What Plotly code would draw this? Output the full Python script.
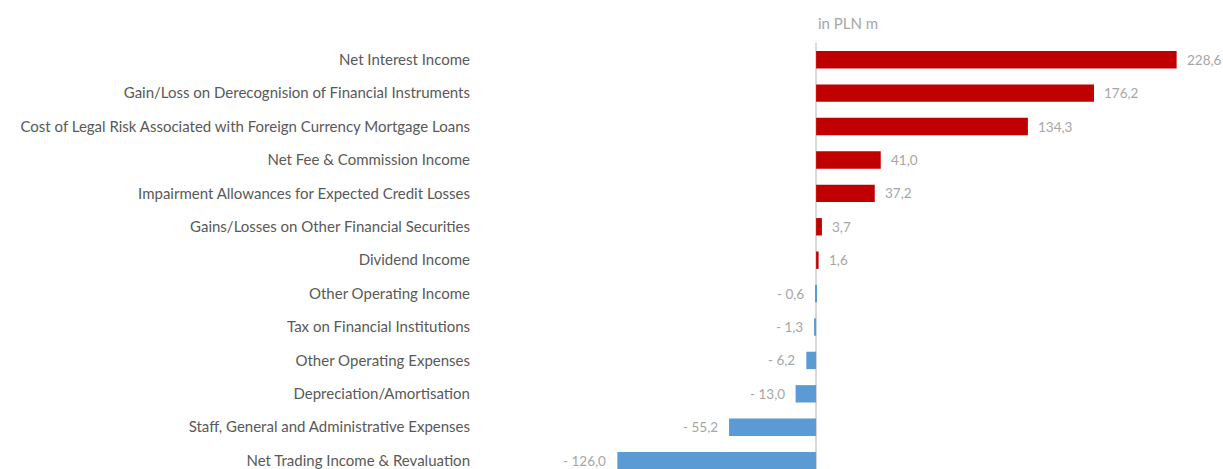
import plotly.graph_objects as go

categories = [
    "Net Interest Income",
    "Gain/Loss on Derecognision of Financial Instruments",
    "Cost of Legal Risk Associated with Foreign Currency Mortgage Loans",
    "Net Fee & Commission Income",
    "Impairment Allowances for Expected Credit Losses",
    "Gains/Losses on Other Financial Securities",
    "Dividend Income",
    "Other Operating Income",
    "Tax on Financial Institutions",
    "Other Operating Expenses",
    "Depreciation/Amortisation",
    "Staff, General and Administrative Expenses",
    "Net Trading Income & Revaluation",
]
values = [228.6, 176.2, 134.3, 41.0, 37.2, 3.7, 1.6, -0.6, -1.3, -6.2, -13.0, -55.2, -126.0]
unit_label = "in PLN m"

RED = "#C00000"
BLUE = "#5B9BD5"
FONT = "Lato"


def fmt(v):
    s = f"{abs(v):.1f}".replace(".", ",")
    return s if v >= 0 else "- " + s


fig = go.Figure()
fig.add_trace(go.Bar(
    x=values,
    y=categories,
    orientation="h",
    width=0.52,
    marker_color=[RED if v >= 0 else BLUE for v in values],
    marker_line_width=0,
    hoverinfo="skip",
))

# value labels next to each bar
for c, v in zip(categories, values):
    fig.add_annotation(
        x=v, y=c, xref="x", yref="y",
        text=fmt(v),
        showarrow=False,
        xanchor="left" if v >= 0 else "right",
        xshift=8 if v >= 0 else -9,
        font=dict(family=FONT, size=13.5, color="#A6A6A6"),
    )

fig.add_annotation(
    x=0, y=1, xref="x", yref="paper",
    text=unit_label, showarrow=False,
    xanchor="left", yanchor="bottom", yshift=9,
    font=dict(family=FONT, size=15, color="#A6A6A6"),
)

fig.update_layout(
    width=1223,
    height=469,
    margin=dict(l=471, r=0, t=43, b=0),
    paper_bgcolor="white",
    plot_bgcolor="white",
    showlegend=False,
    font=dict(family=FONT, size=15, color="#595959"),
)
fig.update_xaxes(
    range=[-218.8, 258.0],
    showgrid=False,
    showticklabels=False,
    zeroline=True,
    zerolinecolor="#D9D9D9",
    zerolinewidth=1.5,
)
fig.update_yaxes(
    categoryorder="array",
    categoryarray=categories,
    range=[12.25, -0.5],
    showgrid=False,
    ticks="",
    tickfont=dict(family=FONT, size=15, color="#595959"),
)

# drop the default body margin so the figure fills the window exactly
fig.write_html(
    "out.html",
    config={"displayModeBar": False},
    post_script="document.body.style.margin='0';document.body.style.overflow='hidden';",
)
